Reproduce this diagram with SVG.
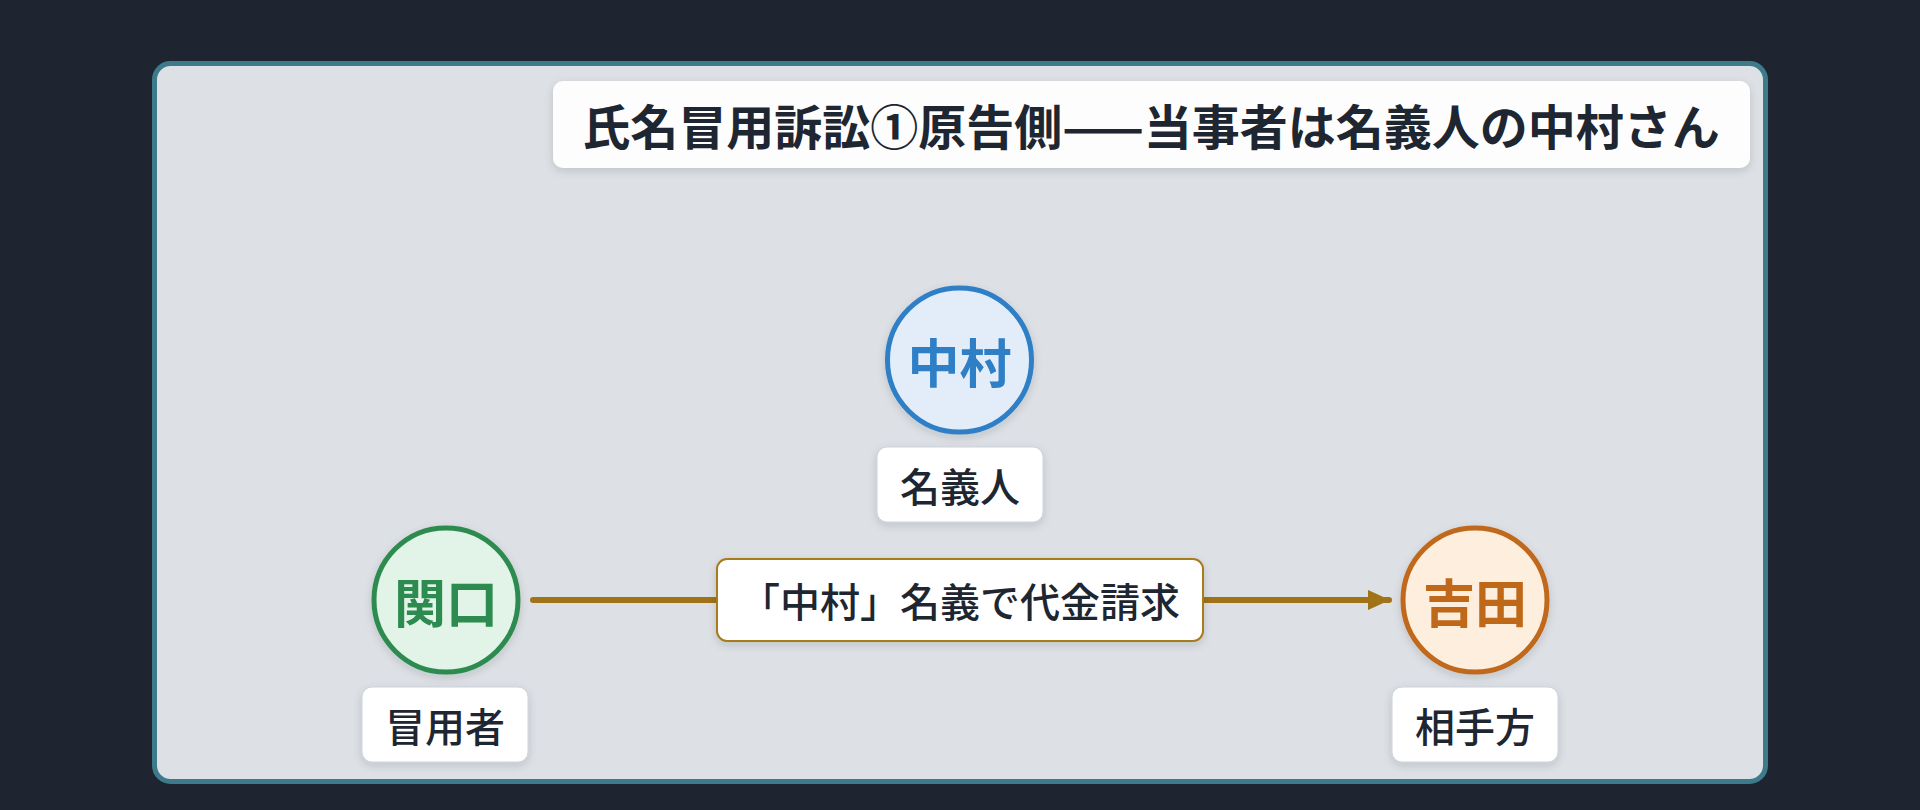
<svg xmlns="http://www.w3.org/2000/svg" width="1920" height="810" viewBox="0 0 1920 810">
<defs>
<style>
.t{font-family:"Noto Sans CJK JP","Noto Sans CJK SC",sans-serif;text-anchor:middle;dominant-baseline:central}
.title{font-size:48px;font-weight:700;fill:#1e2631}
.name{font-size:52px;font-weight:700}
.lbl{font-size:40px;font-weight:500;fill:#1e2631}
.lblbox{fill:#ffffff;stroke:#ccd3de;stroke-width:1}
</style>
<filter id="sh" x="-20%" y="-20%" width="140%" height="150%">
<feDropShadow dx="0" dy="3" stdDeviation="4" flood-color="#1e2630" flood-opacity="0.15"/>
</filter>
<marker id="ah" viewBox="0 0 22 20" refX="21" refY="10" markerWidth="22" markerHeight="20" markerUnits="userSpaceOnUse" orient="auto">
<path d="M0,0 L22,10 L0,20 Z" fill="#a07318"/>
</marker>
</defs>
<rect x="0" y="0" width="1920" height="810" fill="#1e2430"/>
<g id="frame">
<rect x="154.5" y="63.5" width="1611" height="718" rx="16" fill="#dde0e5" stroke="#3d7b8a" stroke-width="5"/>
</g>
<g id="title">
<rect x="553" y="81" width="1197" height="87" rx="10" fill="#fdfdfd" filter="url(#sh)"/>
<text class="t title" x="1151" y="124">氏名冒用訴訟①原告側——当事者は名義人の中村さん</text>
</g>
<g id="connectors">
<line x1="533" y1="600" x2="1389" y2="600" stroke="#a07318" stroke-width="6" stroke-linecap="round" marker-end="url(#ah)"/>
<g id="edge-label">
<rect x="717" y="559" width="486" height="82" rx="10" fill="#ffffff" stroke="#a87b1e" stroke-width="2" filter="url(#sh)"/>
<text class="t lbl" x="960" y="600">「中村」名義で代金請求</text>
</g>
</g>
<g id="nakamura">
<circle cx="959.5" cy="360" r="72" fill="#e3edf9" stroke="#2f7fc6" stroke-width="5" filter="url(#sh)"/>
<text class="t name" x="959.5" y="360" fill="#2f7fc6">中村</text>
<rect class="lblbox" x="877" y="447" width="166" height="75" rx="10" filter="url(#sh)"/>
<text class="t lbl" x="960" y="485">名義人</text>
</g>
<g id="sekiguchi">
<circle cx="446" cy="600" r="72" fill="#e2f4e8" stroke="#2e8b50" stroke-width="5" filter="url(#sh)"/>
<text class="t name" x="446" y="600" fill="#2e8b50">関口</text>
<rect class="lblbox" x="362" y="687" width="166" height="75" rx="10" filter="url(#sh)"/>
<text class="t lbl" x="445" y="725">冒用者</text>
</g>
<g id="yoshida">
<circle cx="1475" cy="600" r="72" fill="#fdeedd" stroke="#c0681a" stroke-width="5" filter="url(#sh)"/>
<text class="t name" x="1475" y="600" fill="#c0681a">吉田</text>
<rect class="lblbox" x="1392" y="687" width="166" height="75" rx="10" filter="url(#sh)"/>
<text class="t lbl" x="1475" y="725">相手方</text>
</g>
</svg>
